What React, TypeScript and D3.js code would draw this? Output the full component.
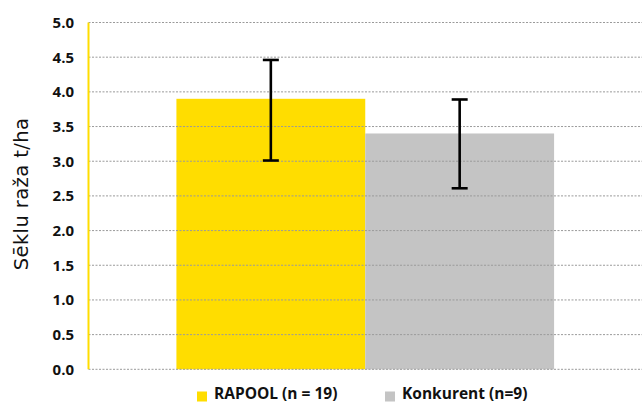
import React from "react";
import * as d3 from "d3";

const groups = ["Sēklu raža"];
const series = ["RAPOOL (n = 19)", "Konkurent (n=9)"];
const values = [3.9, 3.4];
const errLow = [3.01, 2.61];
const errHigh = [4.46, 3.89];
const colors = ["#FFDD00", "#C4C4C4"];
const yTicks = [0, 0.5, 1, 1.5, 2, 2.5, 3, 3.5, 4, 4.5, 5];
const yTitle = "Sēklu raža t/ha";

const W = 642;
const H = 403;
const left = 88.5;
const right = 642;
const top = 22.5;
const bottom = 369.3;

export default function App() {
  const y = d3.scaleLinear().domain([0, 5]).range([bottom, top]);
  const x0 = d3.scaleBand<string>().domain(groups).range([left, right]).paddingInner(0).paddingOuter(0.2328);
  const x1 = d3.scaleBand<string>().domain(series).range([0, x0.bandwidth()]).padding(0);
  const font = "'Open Sans', sans-serif";
  const g0 = x0(groups[0]) as number;
  return (
    <svg width={W} height={H} style={{ position: "absolute", left: 0, top: 0 }} fontFamily={font}>
      <rect width={W} height={H} fill="#fff" />
      {series.map((s, i) => {
        const bx = g0 + (x1(s) as number);
        return (
          <rect key={s} x={bx} y={y(values[i])} width={x1.bandwidth()} height={y(0) - y(values[i])} fill={colors[i]} />
        );
      })}
      {yTicks.map((t) => (
        <g key={t}>
          <line x1={left} x2={right} y1={y(t)} y2={y(t)} stroke="#9a9a9a" strokeWidth={1} strokeDasharray="2,1.5" />
          <text x={74} y={y(t)} dy="0.36em" textAnchor="end" fontSize={15} fontWeight={700} fill="#111">
            {d3.format(".1f")(t)}
          </text>
        </g>
      ))}
      <line x1={left} x2={left} y1={top} y2={bottom} stroke="#FFDD00" strokeWidth={2} />
      {series.map((s, i) => {
        const cx = g0 + (x1(s) as number) + x1.bandwidth() / 2;
        return (
          <g key={s} stroke="#000" strokeWidth={2.6}>
            <line x1={cx} x2={cx} y1={y(errLow[i])} y2={y(errHigh[i])} />
            <line x1={cx - 8} x2={cx + 8} y1={y(errLow[i])} y2={y(errLow[i])} />
            <line x1={cx - 8} x2={cx + 8} y1={y(errHigh[i])} y2={y(errHigh[i])} />
          </g>
        );
      })}
      <text transform={`translate(27.5,194) rotate(-90)`} textAnchor="middle" fontSize={19.5} letterSpacing={0.4} fill="#111" fontFamily="'DejaVu Sans', sans-serif">
        {yTitle}
      </text>
      {series.map((s, i) => {
        const lx = i === 0 ? 197 : 385;
        return (
          <g key={s}>
            <rect x={lx} y={391.5} width={10} height={10} fill={colors[i]} />
            <text x={lx + 17} y={399} fontSize={15.5} fontWeight={700} fill="#111">
              {s}
            </text>
          </g>
        );
      })}
    </svg>
  );
}
